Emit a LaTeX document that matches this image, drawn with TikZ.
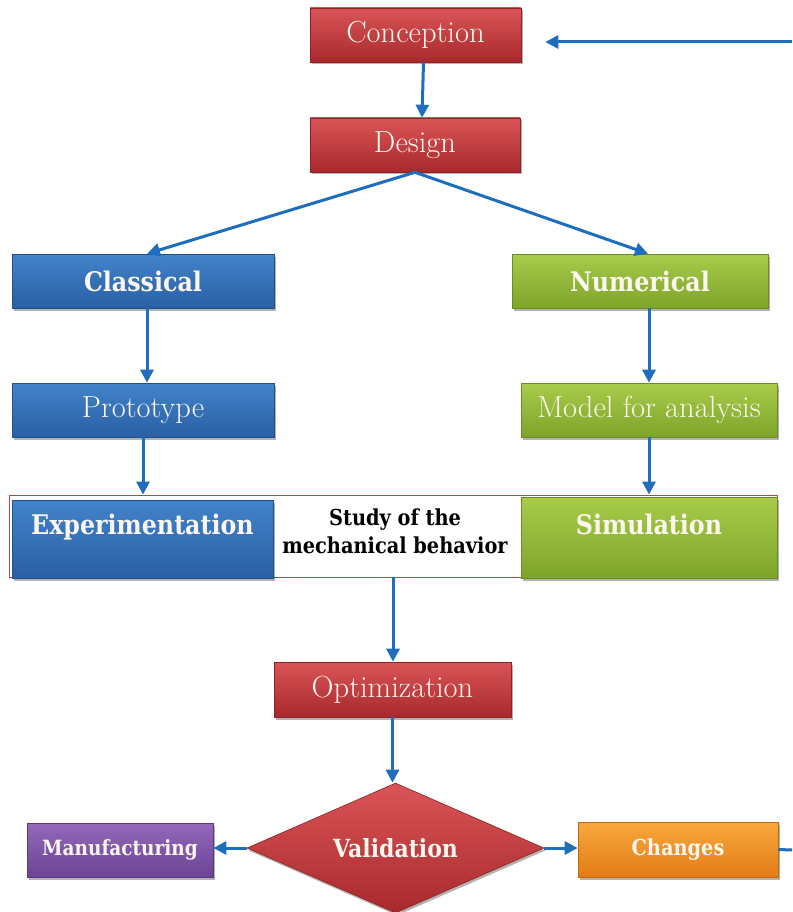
\documentclass[tikz,border=0pt]{standalone}
\usepackage{fontspec}
\newfontfamily\slab{DejaVu Serif}[FakeStretch=0.88]
\usetikzlibrary{shapes.geometric,arrows.meta,shadows}
\definecolor{redT}{HTML}{DA5557}
\definecolor{redB}{HTML}{A8292C}
\definecolor{redD}{HTML}{8E2225}
\definecolor{bluT}{HTML}{4283CB}
\definecolor{bluB}{HTML}{2A5FA3}
\definecolor{bluD}{HTML}{22508A}
\definecolor{grnT}{HTML}{A8CB4A}
\definecolor{grnB}{HTML}{7EA42A}
\definecolor{grnD}{HTML}{6A8C22}
\definecolor{purT}{HTML}{9468BA}
\definecolor{purB}{HTML}{6B4494}
\definecolor{purD}{HTML}{59387D}
\definecolor{orgT}{HTML}{F8A83E}
\definecolor{orgB}{HTML}{E27C14}
\definecolor{orgD}{HTML}{C26A10}
\definecolor{arrblue}{HTML}{1F6EBD}
\definecolor{outlinered}{HTML}{B04848}
\definecolor{cream}{HTML}{FBF6EE}
\begin{document}
\begin{tikzpicture}[x=1pt,y=-1pt,
  box/.style={inner sep=0pt, text=cream, line width=0.6pt,
    drop shadow={shadow xshift=1.5pt, shadow yshift=-2.5pt, opacity=0.3, fill=black}},
  redbox/.style={rectangle, box, top color=redT, bottom color=redB, draw=redD},
  bluebox/.style={rectangle, box, top color=bluT, bottom color=bluB, draw=bluD},
  greenbox/.style={rectangle, box, top color=grnT, bottom color=grnB, draw=grnD},
  purplebox/.style={rectangle, box, top color=purT, bottom color=purB, draw=purD},
  orangebox/.style={rectangle, box, top color=orgT, bottom color=orgB, draw=orgD},
  lightlbl/.style={font=\fontsize{30.5}{34}\selectfont},
  boldlbl/.style={font=\slab\bfseries\fontsize{27}{30}\selectfont, text=cream},
  smalllbl/.style={font=\slab\bfseries\fontsize{22}{26}\selectfont, text=cream},
  arr/.style={-{Triangle[length=13pt,width=13pt]}, line width=3pt, draw=arrblue},
]
\useasboundingbox (0,0) rectangle (792,912);

% outline of the study row
\node[draw=outlinered, line width=0.8pt, fill=white, minimum width=768, minimum height=82, inner sep=0pt] (stdy) at (393,536) {};

\node[redbox, lightlbl, minimum width=211, minimum height=54] (conc) at (415.5,35) {Conception};
\node[redbox, lightlbl, minimum width=210, minimum height=54] (des) at (415,145) {Design};
\node[bluebox, boldlbl, minimum width=262, minimum height=54] (cls) at (143,281) {Classical};
\node[greenbox, boldlbl, minimum width=256, minimum height=54] (num) at (640,281) {Numerical};
\node[bluebox, lightlbl, minimum width=262, minimum height=54] (pro) at (143,410) {Prototype};
\node[greenbox, lightlbl, minimum width=256, minimum height=54] (mdl) at (649,410) {Model for analysis};

\node[bluebox, minimum width=261, minimum height=78] (expt) at (142.5,539) {};
\node[boldlbl] (expttxt) at (142.5,527) {Experimentation};
\node[greenbox, minimum width=256, minimum height=81] (sim) at (649,537.5) {};
\node[boldlbl] (simtxt) at (649,524) {Simulation};
\node[font=\slab\bfseries\fontsize{22}{28}\selectfont, align=center, text=black] (stdytxt) at (395,531) {Study of the\\mechanical behavior};

\node[redbox, lightlbl, minimum width=237, minimum height=55] (opt) at (392.5,689.5) {Optimization};
\node[box, diamond, top color=redT, bottom color=redB, draw=redD, aspect=2.3, minimum width=297, minimum height=130, font=\slab\bfseries\fontsize{25}{28}\selectfont] (val) at (395.5,848) {Validation};
\node[purplebox, font=\slab\bfseries\fontsize{21}{26}\selectfont, minimum width=186, minimum height=54] (mfg) at (120,850) {Manufacturing};
\node[orangebox, smalllbl, minimum width=200, minimum height=55] (chg) at (678,849.5) {Changes};

\coordinate (edgeB) at (792,850);
\coordinate (edgeT) at (792,42);

\draw[arr] ([xshift=8pt]conc.south) -- ([xshift=7pt]des.north);
\draw[arr] (des.south) -- ([xshift=4pt]cls.north);
\draw[arr] (des.south) -- ([xshift=8pt]num.north);
\draw[arr] ([xshift=4pt]cls.south) -- ([xshift=4pt]pro.north);
\draw[arr] (pro.south) -- (pro.south |- stdy.north);
\draw[arr] ([xshift=9pt]num.south) -- (mdl.north);
\draw[arr] (mdl.south) -- (mdl.south |- stdy.north);
\draw[arr] (stdy.south) -- (stdy.south |- opt.north);
\draw[arr] (opt.south) -- (opt.south |- val.north);
\draw[arr] (val.west) -- (val.west -| mfg.east);
\draw[arr] (val.east) -- (val.east -| chg.west);
\draw[line width=3pt, draw=arrblue] (chg.east) -- (edgeB);
\draw[arr, shorten >=24pt] (edgeT) -- (edgeT -| conc.east);
\end{tikzpicture}
\end{document}
